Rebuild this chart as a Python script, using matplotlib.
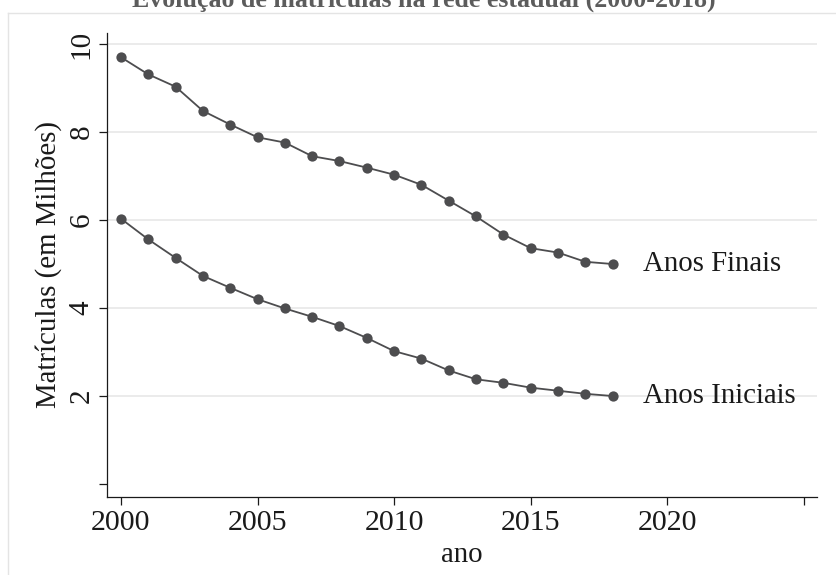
import matplotlib
matplotlib.use("Agg")
import matplotlib.pyplot as plt
from matplotlib.lines import Line2D

years = list(range(2000, 2019))
anos_finais = [9.70, 9.31, 9.03, 8.48, 8.17, 7.88, 7.76, 7.45, 7.34, 7.19,
               7.03, 6.80, 6.44, 6.08, 5.67, 5.36, 5.26, 5.05, 5.00]
anos_iniciais = [6.03, 5.56, 5.14, 4.73, 4.46, 4.20, 3.99, 3.80, 3.59, 3.32,
                 3.02, 2.85, 2.58, 2.38, 2.30, 2.19, 2.12, 2.05, 2.00]
series_labels = ["Anos Finais", "Anos Iniciais"]
xticks = [2000, 2005, 2010, 2015, 2020, 2025]
xticklabels = ["2000", "2005", "2010", "2015", "2020", ""]
yticks = [0, 2, 4, 6, 8, 10]
yticklabels = ["", "2", "4", "6", "8", "10"]
title = "Evolução de matrículas na rede estadual (2000-2018)"
xlabel = "ano"
ylabel = "Matrículas (em Milhões)"

plt.rcParams['font.family'] = ['Liberation Serif', 'DejaVu Serif']

W, H = 837, 575
fig = plt.figure(figsize=(W / 100, H / 100), dpi=100)
ax = fig.add_axes([107 / W, 1 - 497 / H, (817 - 107) / W, (497 - 33) / H])

col = '#4d4d4f'
for vals, lab in zip([anos_finais, anos_iniciais], series_labels):
    ax.plot(years, vals, color=col, lw=1.3, marker='o', markersize=7.4,
            markeredgewidth=0, zorder=3)
    ax.annotate(lab, xy=(years[-1], vals[-1]), xytext=(21.5, 0),
                textcoords='offset points', ha='left', va='center',
                fontsize=20.8, color='#1a1a1a')

ax.set_xlim(1999.49, 2025.48)
ax.set_ylim(-0.295, 10.25)
ax.set_xticks(xticks)
ax.set_xticklabels(xticklabels, fontsize=21.5, color='#1a1a1a')
ax.set_yticks(yticks)
ax.set_yticklabels(yticklabels, fontsize=21, color='#1a1a1a', rotation=90, va='center')
for v in yticks:
    if v > 0:
        ax.axhline(v, color='#e8e8e8', lw=1.2, zorder=1)
ax.tick_params(axis='both', direction='out', length=6, width=0.9, color='#1a1a1a', pad=3)
for s in ['top', 'right']:
    ax.spines[s].set_visible(False)
for s in ['left', 'bottom']:
    ax.spines[s].set_color('#1a1a1a')
    ax.spines[s].set_linewidth(0.9)
ax.set_xlabel(xlabel, fontsize=20.8, color='#1a1a1a', labelpad=5)
ax.set_ylabel(ylabel, fontsize=20.8, color='#1a1a1a', labelpad=5)

# outer frame (light grey), partially visible
fig.add_artist(Line2D([8 / W, 8 / W], [0, 1 - 12.7 / H], transform=fig.transFigure,
                      color='#e4e4e4', lw=1.0))
fig.add_artist(Line2D([8 / W, 1], [1 - 12.7 / H, 1 - 12.7 / H], transform=fig.transFigure,
                      color='#e4e4e4', lw=1.0))

fig.text((132 + 715) / 2 / W, 1 - 7 / H, title, ha='center', va='baseline',
         fontsize=18.6, fontweight='bold', color='#5c5c5c')

fig.savefig('out.png', dpi=100)
